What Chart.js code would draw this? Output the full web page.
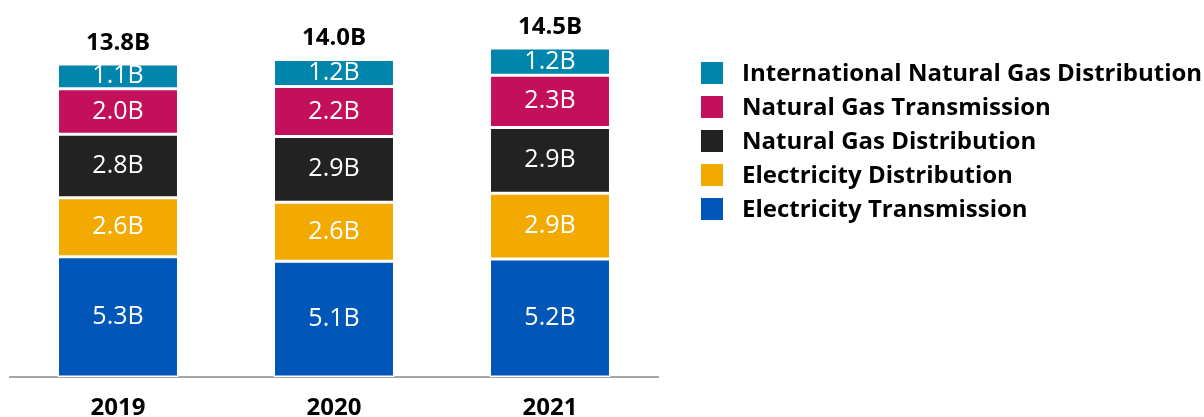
<!DOCTYPE html>
<html>
<head>
<meta charset="utf-8">
<script src="https://cdn.jsdelivr.net/npm/chart.js@4"></script>
<style>
  body { margin: 0; background: #fff; }
  canvas { display: block; }
</style>
</head>
<body>
<canvas id="myChart" width="1204" height="417"></canvas>
<script>
const ctx = document.getElementById('myChart').getContext('2d');

// --- DATA ---
const annees = ['2019', '2020', '2021'];
const electriciteTransport = [5.3, 5.1, 5.2];
const electriciteDistribution = [2.6, 2.6, 2.9];
const gazDistribution = [2.8, 2.9, 2.9];
const gazTransport = [2.0, 2.2, 2.3];
const gazInternational = [1.1, 1.2, 1.2];
const totaux = [13.8, 14.0, 14.5];

const couleurs = {
    elecTrans: '#0057b8',
    elecDist: '#f2a900',
    gazDist: '#222222',
    gazTrans: '#c4105a',
    gazIntl: '#0085ad'
};

const police = '"Open Sans", "Noto Sans", sans-serif';

// --- LABELS INSIDE SEGMENTS + TOTALS ---
const etiquettes = {
    id: 'etiquettes',
    afterDatasetsDraw(chart) {
        const c = chart.ctx;
        c.save();
        c.textAlign = 'center';
        c.textBaseline = 'alphabetic';
        chart.data.datasets.forEach((ds, i) => {
            const meta = chart.getDatasetMeta(i);
            meta.data.forEach((bar, j) => {
                const mid = (bar.y + bar.base) / 2;
                c.fillStyle = '#ffffff';
                c.font = '400 25px ' + police;
                c.fillText(ds.data[j].toFixed(1) + 'B', bar.x, mid + 7);
            });
        });
        const top = chart.getDatasetMeta(chart.data.datasets.length - 1);
        top.data.forEach((bar, j) => {
            c.fillStyle = '#000000';
            c.font = '700 24px ' + police;
            c.fillText(totaux[j].toFixed(1) + 'B', bar.x, bar.y - 14);
        });
        c.restore();
    }
};

// --- LEGEND (right side, top series first) ---
const legende = {
    id: 'legende',
    afterDraw(chart) {
        const c = chart.ctx;
        const ds = [...chart.data.datasets].reverse();
        c.save();
        c.textAlign = 'left';
        c.textBaseline = 'middle';
        c.font = '700 24px ' + police;
        ds.forEach((d, i) => {
            const y = 73 + i * 34;
            c.fillStyle = d.backgroundColor;
            c.fillRect(701, y - 11, 22, 22);
            c.fillStyle = '#000000';
            c.fillText(d.label, 742, y + 1);
        });
        c.restore();
    }
};

const serie = (label, data, couleur) => ({
    label: label,
    data: data,
    backgroundColor: couleur,
    borderColor: '#ffffff',
    borderWidth: 1.5,
    borderSkipped: false,
    barPercentage: 0.56,
    categoryPercentage: 1
});

const config = {
    type: 'bar',
    data: {
        labels: annees,
        datasets: [
            serie('Electricity Transmission', electriciteTransport, couleurs.elecTrans),
            serie('Electricity Distribution', electriciteDistribution, couleurs.elecDist),
            serie('Natural Gas Distribution', gazDistribution, couleurs.gazDist),
            serie('Natural Gas Transmission', gazTransport, couleurs.gazTrans),
            serie('International Natural Gas Distribution', gazInternational, couleurs.gazIntl)
        ]
    },
    options: {
        responsive: false,
        animation: false,
        layout: { padding: { top: 14, right: 546, left: 10, bottom: 0 } },
        scales: {
            x: {
                stacked: true,
                grid: { display: false, drawTicks: false },
                border: { display: true, color: '#a6a6a6', width: 2 },
                ticks: { color: '#000', font: { family: police, size: 24, weight: '700' }, padding: 17 },
                afterFit: (scale) => { scale.height = 40; }
            },
            y: {
                stacked: true,
                display: false,
                min: 0,
                max: 16
            }
        },
        plugins: {
            legend: { display: false },
            tooltip: { enabled: false }
        }
    },
    plugins: [etiquettes, legende]
};

const myChart = new Chart(ctx, config);
</script>
</body>
</html>
